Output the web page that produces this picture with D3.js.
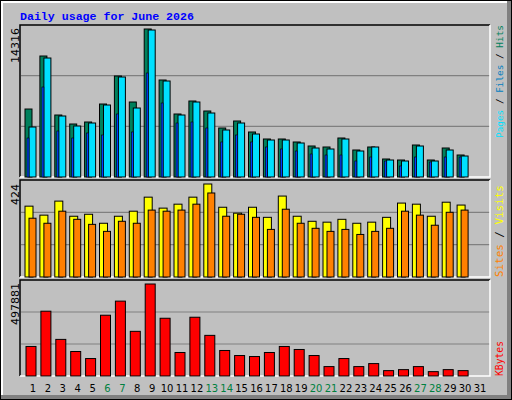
<!DOCTYPE html>
<html><head><meta charset="utf-8">
<script src="https://cdn.jsdelivr.net/npm/d3@7"></script>
<style>body{margin:0;background:#fff}svg{display:block}</style>
</head><body><svg id="c" width="512" height="400"></svg>
<script>
const days = d3.range(1,32);
const weekend = [6,7,13,14,20,21,27,28];
const hits  = [6576,11703,5996,5126,5320,7060,9770,7254,14316,9382,6094,7351,6384,4740,5417,4353,3676,3676,3386,2998,2902,3772,2612,2902,1741,1644,3095,1644,2805,2128,0];
const files = [4836,11510,5900,4933,5223,6964,9673,6674,14219,9286,5997,7254,6190,4546,5223,4159,3579,3579,3289,2805,2708,3676,2515,2902,1644,1548,2998,1548,2612,2031,0];
const pages = [3772,8705,4449,3772,4256,4062,6094,4353,10059,7158,5223,5320,4740,3386,4062,3386,2902,2708,2515,2225,2128,2128,1548,1934,1548,1064,1934,1451,1934,1934,0];
const visits= [323,282,346,277,286,245,277,300,364,314,332,364,424,318,291,318,272,369,277,254,250,263,245,250,272,337,332,277,341,328,0];
const sites = [268,245,300,263,240,208,254,245,305,300,305,332,383,277,286,272,217,309,245,222,208,217,194,208,222,300,282,236,295,305,0];
const kbytes= [159900,350700,198100,132600,94500,328900,405200,241700,497881,312500,127200,318000,219900,138100,110800,105400,127200,159900,143500,110800,50900,94500,50900,67200,29100,34500,50900,23600,34500,29100,0];
const title = "Daily usage for June 2026";

const svg = d3.select("#c");
svg.append("rect").attr("x",0).attr("y",0).attr("width",512).attr("height",400).attr("fill","#000");
svg.append("rect").attr("x",1).attr("y",1).attr("width",510).attr("height",398).attr("fill","#808080");
svg.append("rect").attr("x",1).attr("y",1).attr("width",506).attr("height",394).attr("fill","#fff");
svg.append("rect").attr("x",3).attr("y",3).attr("width",504).attr("height",392).attr("fill","#c0c0c0");

svg.append("text").attr("x",20).attr("y",20).text(title)
  .attr("font-family","Liberation Mono").attr("font-weight","bold").attr("font-size",11.6).attr("fill","#0000ff");

const x = d3.scaleLinear().domain([1,31]).range([33,480]);
const L=20, R=490;

function panel(top,bottom,maxV,maxY){
  const g = svg.append("g");
  g.append("rect").attr("x",L).attr("y",top).attr("width",R-L).attr("height",bottom-top).attr("fill","#c0c0c0");
  const y = d3.scaleLinear().domain([0,maxV]).range([bottom,maxY]);
  [1,2].forEach(k=>g.append("line").attr("x1",L+1).attr("x2",R).attr("y1",bottom-(bottom-top)*k/3).attr("y2",bottom-(bottom-top)*k/3).attr("stroke","#808080").attr("stroke-width",1.2));
  g.append("path").attr("d",`M${L},${bottom}V${top}H${R}`).attr("stroke","#000").attr("fill","none").attr("stroke-width",1.5);
  g.append("path").attr("d",`M${L},${bottom}H${R}V${top}`).attr("stroke","#fff").attr("fill","none").attr("stroke-width",1.5);
  return {g,y,bottom};
}
function bars(p,data,color,dx0,dx1,sw){
  p.g.selectAll(null).data(data.map((v,i)=>({v,d:days[i]})).filter(o=>o.v>0)).enter().append("rect")
    .attr("x",o=>x(o.d)+dx0).attr("width",dx1-dx0)
    .attr("y",o=>p.y(o.v)).attr("height",o=>p.bottom-p.y(o.v))
    .attr("fill",color).attr("stroke","#000").attr("stroke-width",sw);
}
const p1 = panel(25,177,14316,29);
bars(p1,hits,"#00805c",-8,-1,1);
bars(p1,files,"#00e0ff",-4,3,1);
bars(p1,pages,"#0040ff",-6,-4,0.6);
const p2 = panel(180,277,424,184);
bars(p2,visits,"#ffff00",-8,0,1);
bars(p2,sites,"#ff8000",-4,3,1);
const p3 = panel(280,376,497881,284);
bars(p3,kbytes,"#ff0000",-7,3,1);

function vlab(xp,yp,parts,anchor,fam,fs){
  const t = svg.append("text").attr("transform",`translate(${xp},${yp}) rotate(-90)`)
    .attr("font-family",fam||"DejaVu Sans Mono").attr("font-size",fs||11).attr("text-anchor",anchor);
  parts.forEach(([s,c])=>t.append("tspan").text(s).attr("fill",c));
}
vlab(19,28,[["14316","#000"]],"end","DejaVu Sans",11);
vlab(19,184,[["424","#000"]],"end","DejaVu Sans",11);
vlab(19,283,[["497881","#000"]],"end","DejaVu Sans",11);
vlab(503,138,[["Pages","#00e0ff"],[" / ","#000"],["Files","#0080c0"],[" / ","#000"],["Hits","#00805c"]],"start",null,9.4);
vlab(503,277,[["Sites","#ff8000"],[" / ","#000"],["Visits","#ffff00"]],"start",null,10.9);
vlab(503,376,[["KBytes","#ff0000"]],"start",null,9.7);

svg.selectAll(".day").data(days).enter().append("text")
  .attr("x",d=>x(d)).attr("y",392).attr("text-anchor","middle")
  .attr("font-family","DejaVu Sans").attr("font-size",10)
  .attr("fill",d=>weekend.includes(d)?"#008040":"#000").text(d=>d);
</script></body></html>
